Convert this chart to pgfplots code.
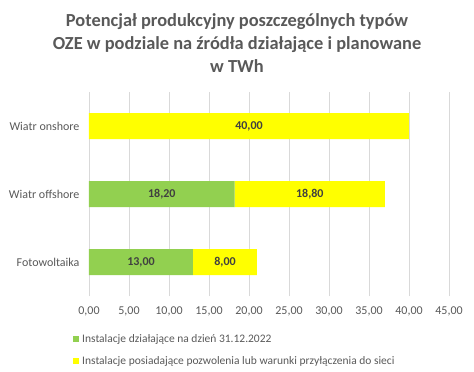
\documentclass[border=0pt]{standalone}
\usepackage{fontspec}
\setmainfont{Carlito}
\usepackage{pgfplots}
\usepackage{pgfplotstable}
\pgfplotsset{compat=1.18}
\definecolor{zielony}{HTML}{92D050}
\definecolor{zolty}{HTML}{FFFF00}
\definecolor{szary}{HTML}{595959}
\definecolor{ciemny}{HTML}{404040}
\definecolor{siatka}{HTML}{D9D9D9}
\pgfplotstableread{
y x label
0 13 13,00
1 18.2 18,20
2 0 {}
}\zielone
\pgfplotstableread{
y x label
0 8 8,00
1 18.8 18,80
2 40 40,00
}\zolte
\begin{document}
\begin{tikzpicture}
\path[use as bounding box] (-89pt,-76pt) rectangle (385pt,296pt);
\begin{axis}[
  at={(0pt,0pt)}, anchor=south west,
  scale only axis, width=360pt, height=204pt,
  xbar stacked, bar width=26pt,
  xmin=0, xmax=45, ymin=-0.5, ymax=2.5,
  xtick={0,5,...,45}, ytick={0,1,2},
  yticklabels={Fotowoltaika, Wiatr offshore, Wiatr onshore},
  xmajorgrids, grid style={siatka, line width=0.8pt},
  axis line style={draw=none},
  major tick length=0pt,
  tick label style={font=\fontsize{12}{14}\selectfont, text=szary},
  xticklabel style={yshift=-7pt, /pgf/number format/.cd, use comma, fixed, fixed zerofill, precision=2, assume math mode=true},
  yticklabel style={xshift=-6pt},
  nodes near coords, point meta=explicit symbolic,
  every node near coord/.append style={font=\bfseries\fontsize{12}{14}\selectfont, text=ciemny, anchor=center},
  legend style={at={(0,0)}, anchor=north west, xshift=-19pt, yshift=-34pt, draw=none, fill=none, font=\fontsize{11.5}{13}\selectfont, text=szary, row sep=9pt, column sep=1pt, cells={anchor=west}},
  legend image code/.code={\fill[#1] (0pt,-3pt) rectangle (6pt,3pt);},
]
\addplot[fill=zielony, draw=none] table[x=x, y=y, meta=label] {\zielone};
\addlegendentry{Instalacje działające na dzień 31.12.2022}
\addplot[fill=zolty, draw=none] table[x=x, y=y, meta=label] {\zolte};
\addlegendentry{Instalacje posiadające pozwolenia lub warunki przyłączenia do sieci}
\end{axis}
\node[align=center, font=\bfseries\fontsize{18.4}{23}\selectfont, text=szary] at (148pt,253pt) {Potencjał produkcyjny poszczególnych typów\\OZE w podziale na źródła działające i planowane\\w TWh};
\end{tikzpicture}
\end{document}
